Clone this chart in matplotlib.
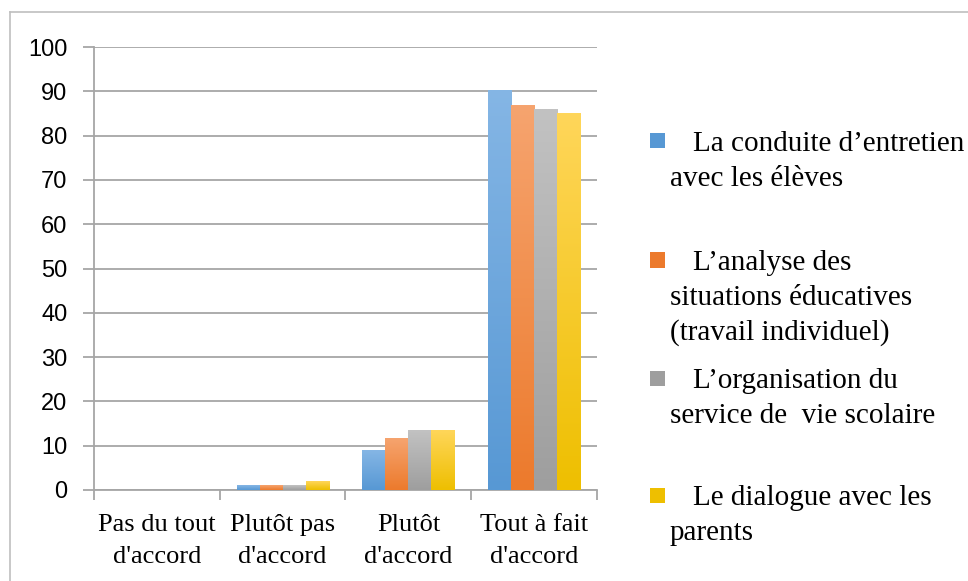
import matplotlib
matplotlib.use("Agg")
import matplotlib.pyplot as plt
import numpy as np
from matplotlib.colors import LinearSegmentedColormap
from matplotlib.patches import Rectangle
from matplotlib.lines import Line2D

categories = ["Pas du tout\nd'accord", "Plutôt pas\nd'accord", "Plutôt\nd'accord", "Tout à fait\nd'accord"]
series_names = [
    ["La conduite d\u2019entretien", "avec les élèves"],
    ["L\u2019analyse des", "situations éducatives", "(travail individuel)"],
    ["L\u2019organisation du", "service de  vie scolaire"],
    ["Le dialogue avec les", "parents"],
]
conduite = [0, 1.1, 9.0, 90.4]
analyse = [0, 1.1, 11.7, 86.9]
organisation = [0, 1.1, 13.5, 86.0]
dialogue = [0, 2.0, 13.5, 85.1]
series = [conduite, analyse, organisation, dialogue]
yticks = [0, 10, 20, 30, 40, 50, 60, 70, 80, 90, 100]

grad_colors = [("#85B6E5", "#5798D4"), ("#F6A46F", "#EC7A2C"),
               ("#C2C2C2", "#9E9E9E"), ("#FFD65A", "#EEBF00")]

W, H = 968, 581
fig = plt.figure(figsize=(W / 100, H / 100), dpi=100)
ax = fig.add_axes([94 / W, 1 - 490 / H, (597 - 94) / W, (490 - 47) / H])

x = np.arange(len(categories))
bw = 0.183
for i, vals in enumerate(series):
    top, bot = grad_colors[i]
    cmap = LinearSegmentedColormap.from_list(f"g{i}", [bot, top])
    offs = (i - 1.5) * bw
    bars = ax.bar(x + offs, vals, width=bw, color=top, edgecolor="none", zorder=2)
    for b in bars:
        h = b.get_height()
        if h <= 0:
            continue
        grad = np.linspace(0, 1, 256).reshape(-1, 1)
        im = ax.imshow(grad, cmap=cmap, origin="lower", aspect="auto",
                       extent=[b.get_x(), b.get_x() + b.get_width(), 0, h], zorder=3)
        im.set_clip_path(b)

ax.set_xlim(-0.5, 3.5)
ax.set_ylim(0, 100)
ax.set_yticks(yticks)
ax.set_yticklabels([str(v) for v in yticks], fontsize=17, family="Liberation Sans")
ax.yaxis.grid(True, color="#A6A6A6", linewidth=1.3, zorder=0)
ax.set_axisbelow(True)
ax.set_xticks(x)
ax.set_xticklabels(categories, fontsize=19, family="Liberation Serif", linespacing=1.6)
ax.set_xticks(np.arange(-0.5, 4.0, 1.0), minor=True)
ax.tick_params(axis="x", which="major", length=0, pad=17)
ax.tick_params(axis="x", which="minor", length=7, color="#A6A6A6", width=1.3)
ax.tick_params(axis="y", length=8, color="#A6A6A6", width=1.3, pad=11)
for s in ["top", "right"]:
    ax.spines[s].set_visible(False)
for s in ["left", "bottom"]:
    ax.spines[s].set_color("#A6A6A6")
    ax.spines[s].set_linewidth(1.3)

# outer frame (only left and top edges visible)
fig.lines.append(Line2D([10 / W, 10 / W], [0, 1 - 12 / H], transform=fig.transFigure,
                        color="#BFBFBF", linewidth=1.2))
fig.lines.append(Line2D([10 / W, 1], [1 - 12 / H, 1 - 12 / H], transform=fig.transFigure,
                        color="#BFBFBF", linewidth=1.2))

# legend
marker_y = [141, 260, 378, 495]
for i, lines in enumerate(series_names):
    top, bot = grad_colors[i]
    cy = marker_y[i]
    fig.patches.append(Rectangle((650 / W, 1 - (cy + 7.5) / H), 15 / W, 15 / H,
                                 transform=fig.transFigure, facecolor=bot,
                                 edgecolor="none"))
    for j, line in enumerate(lines):
        tx = 693 if j == 0 else 670
        ty = cy + 3 + j * 35
        fig.text(tx / W, 1 - ty / H, line, fontsize=21, family="Liberation Serif",
                 va="center", ha="left")

fig.savefig("out.png", dpi=100)
